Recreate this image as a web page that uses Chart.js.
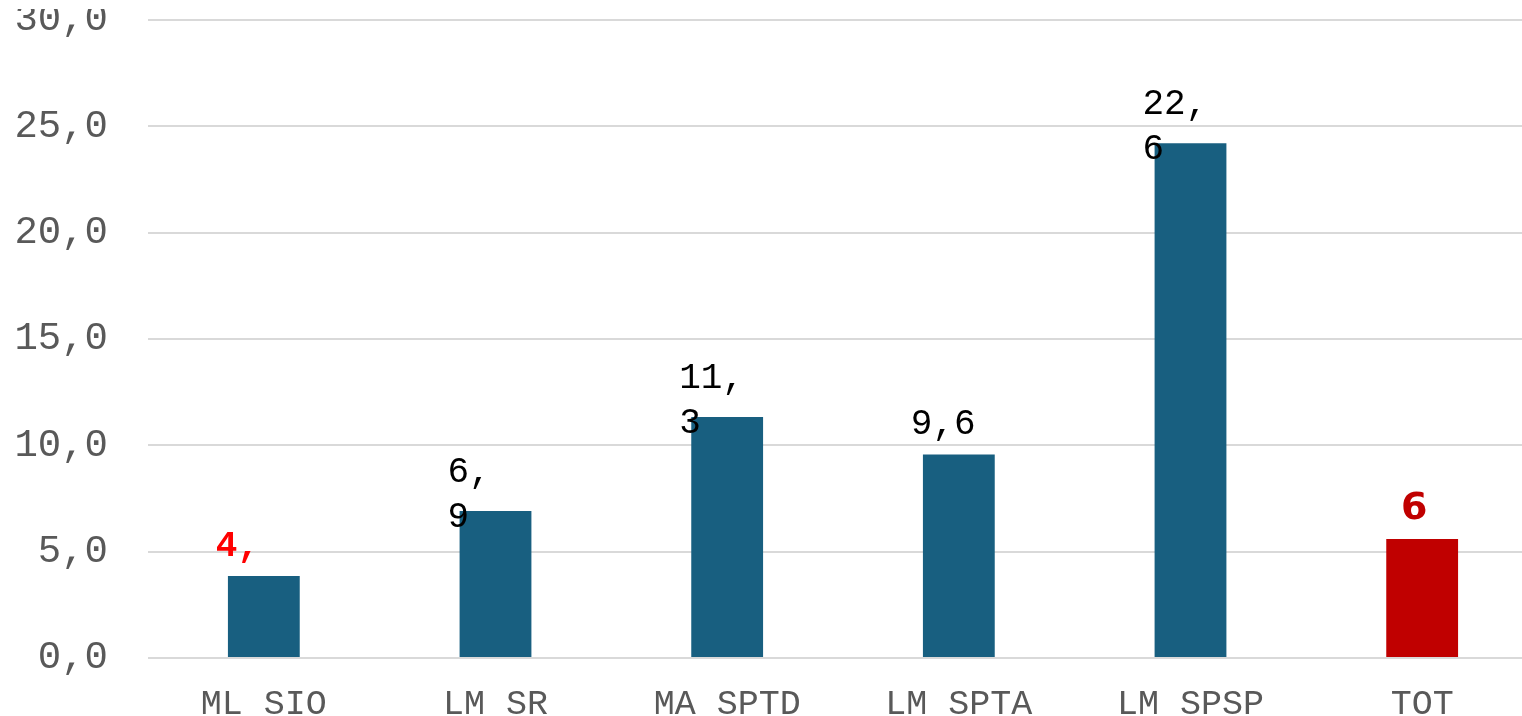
<!DOCTYPE html>
<html>
<head>
<meta charset="utf-8">
<script src="https://cdn.jsdelivr.net/npm/chart.js@4.4.0/dist/chart.umd.min.js"></script>
<style>
  body { margin: 0; background: #fff; overflow: hidden; }
  /* the plot runs a little past the right edge in the original */
  #frame { width: 1522px; height: 716px; overflow: hidden; }
  #wrap { width: 1538px; height: 716px; position: relative; }
</style>
</head>
<body>
<div id="frame"><div id="wrap"><canvas id="barChart"></canvas></div></div>
<script>
// data
var categories = ['ML SIO', 'LM SR', 'MA SPTD', 'LM SPTA', 'LM SPSP', 'TOT'];
var values = [3.86, 6.91, 11.33, 9.57, 24.2, 5.6];
// the printed labels wrap in the original, so keep them line by line
var valueLabels = [['4,'], ['6,', '9'], ['11,', '3'], ['9,6'], ['22,', '6'], ['6']];
var yTicks = [0, 5, 10, 15, 20, 25, 30];

var barColors = ['#185F80', '#185F80', '#185F80', '#185F80', '#185F80', '#C00000'];

var valueLabelPlugin = {
    id: 'valueLabels',
    afterDatasetsDraw: function (chart) {
        var ctx = chart.ctx;
        var bars = chart.getDatasetMeta(0).data;
        ctx.save();
        bars.forEach(function (bar, i) {
            var lines = valueLabels[i];
            var last = categories[i] === 'TOT';
            if (last) {
                ctx.font = 'bold 38px "DejaVu Sans"';
                ctx.fillStyle = '#C00000';
                ctx.textAlign = 'center';
            } else if (i === 0) {
                ctx.font = 'bold 36px "Liberation Mono"';
                ctx.fillStyle = '#FF0000';
                ctx.textAlign = 'left';
            } else {
                ctx.font = '36px "Liberation Mono"';
                ctx.fillStyle = '#000000';
                ctx.textAlign = 'left';
            }
            ctx.textBaseline = 'alphabetic';
            var x = last ? bar.x - 8 : bar.x - 48;
            var baseY = bar.y + (lines.length > 1 ? 16 : -20);
            lines.forEach(function (txt, k) {
                ctx.fillText(txt, x, baseY - (lines.length - 1 - k) * 45);
            });
        });
        ctx.restore();
    },
    afterDraw: function (chart) {
        // top of the first tick label is cut off in the original
        var ctx = chart.ctx;
        ctx.save();
        ctx.fillStyle = '#fff';
        ctx.fillRect(0, 0, 140, 9);
        ctx.restore();
    }
};

var ctx = document.getElementById('barChart').getContext('2d');
var myChart = new Chart(ctx, {
    type: 'bar',
    data: {
        labels: categories,
        datasets: [{
            data: values,
            backgroundColor: barColors,
            borderWidth: 0,
            barPercentage: 0.31,
            categoryPercentage: 1
        }]
    },
    options: {
        responsive: true,
        maintainAspectRatio: false,
        animation: false,
        layout: { padding: 0 },
        plugins: {
            legend: { display: false },
            tooltip: { enabled: false }
        },
        scales: {
            x: {
                grid: { display: false },
                border: { display: false },
                ticks: {
                    color: '#595959',
                    font: { family: 'Liberation Mono', size: 35, lineHeight: 1 },
                    padding: 21,
                    maxRotation: 0
                },
                afterFit: function (scale) {
                    scale.height = 58;
                    scale.paddingLeft = 0;
                    scale.paddingRight = 0;
                }
            },
            y: {
                min: 0,
                max: 30,
                afterBuildTicks: function (scale) {
                    scale.ticks = yTicks.map(function (v) { return { value: v }; });
                },
                grid: { color: '#D9D9D9', lineWidth: 2, drawTicks: false },
                border: { display: false },
                ticks: {
                    color: '#595959',
                    font: { family: 'Liberation Mono', size: 39, lineHeight: 1 },
                    padding: 40,
                    callback: function (v) { return v.toFixed(1).replace('.', ','); }
                },
                afterFit: function (scale) {
                    scale.width = 148;
                    // tick padding would otherwise push the plot down
                    scale.paddingTop = 20;
                    scale.paddingBottom = 0;
                }
            }
        }
    },
    plugins: [valueLabelPlugin]
});
</script>
</body>
</html>
